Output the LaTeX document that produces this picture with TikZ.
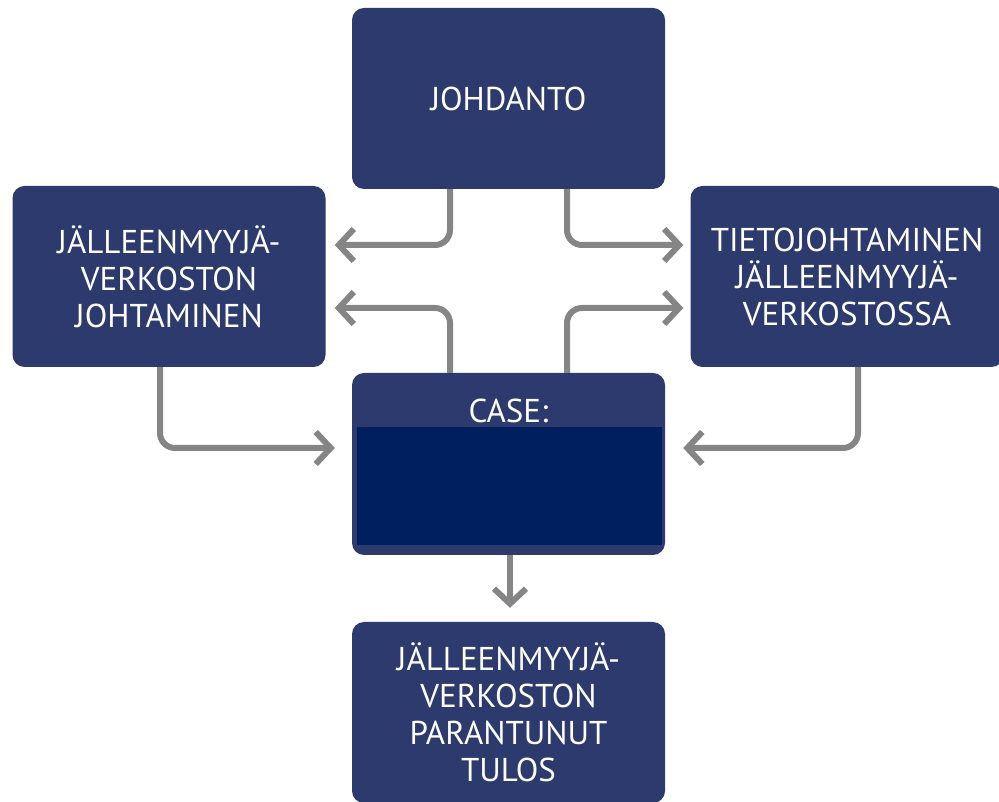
\documentclass[tikz,border=0pt]{standalone}
\usepackage{fontspec}
\setmainfont{PT Sans}
\usetikzlibrary{arrows.meta}
\definecolor{boxblue}{RGB}{44,58,110}
\definecolor{caseblue}{RGB}{0,31,94}
\definecolor{flowgray}{RGB}{133,133,133}
\begin{document}
\begin{tikzpicture}[x=1pt,y=1pt,
  block/.style={fill=boxblue, rounded corners=12pt, minimum width=313pt,
    minimum height=181pt, inner sep=0pt, text=white, align=center,
    font=\fontsize{33}{37}\selectfont},
  flow/.style={draw=flowgray, line width=6pt, rounded corners=15pt,
    -{Straight Barb[length=15pt,width=32pt]}}]
\useasboundingbox (0,0) rectangle (999,801);
\node[block] (intro) at (508.5,702.5) {JOHDANTO};
\node[block] (mgmt) at (169,524.5) {JÄLLEENMYYJÄ-\\VERKOSTON\\JOHTAMINEN};
\node[block] (know) at (847,524.5) {TIETOJOHTAMINEN\\JÄLLEENMYYJÄ-\\VERKOSTOSSA};
\node[block, minimum height=182pt] (case) at (508.5,337) {};
\fill[caseblue] (357,256) rectangle (662,374);
\node[text=white, font=\fontsize{33}{37}\selectfont] (caselabel) at (508.5,390) {CASE:};
\node[block] (result) at (508.5,88.5) {JÄLLEENMYYJÄ-\\VERKOSTON\\PARANTUNUT\\TULOS};
% connectors
\draw[flow, shorten >=9pt] ([xshift=-58.5pt]intro.south) |- ([yshift=31.5pt]mgmt.east);
\draw[flow, shorten >=7pt] ([xshift=58.5pt]intro.south) |- ([yshift=31.5pt]know.west);
\draw[flow, shorten >=9pt] ([xshift=-58.5pt]case.north) |- ([yshift=-31.5pt]mgmt.east);
\draw[flow, shorten >=7pt] ([xshift=58.5pt]case.north) |- ([yshift=-31.5pt]know.west);
\draw[flow, shorten >=17pt] ([xshift=-9pt]mgmt.south) |- ([yshift=16pt]case.west);
\draw[flow, shorten >=18pt] ([xshift=11pt]know.south) |- ([yshift=16pt]case.east);
\draw[flow, rounded corners=0pt, shorten >=14pt] ([xshift=1.5pt]case.south) -- ([xshift=1.5pt]result.north);
\end{tikzpicture}
\end{document}
